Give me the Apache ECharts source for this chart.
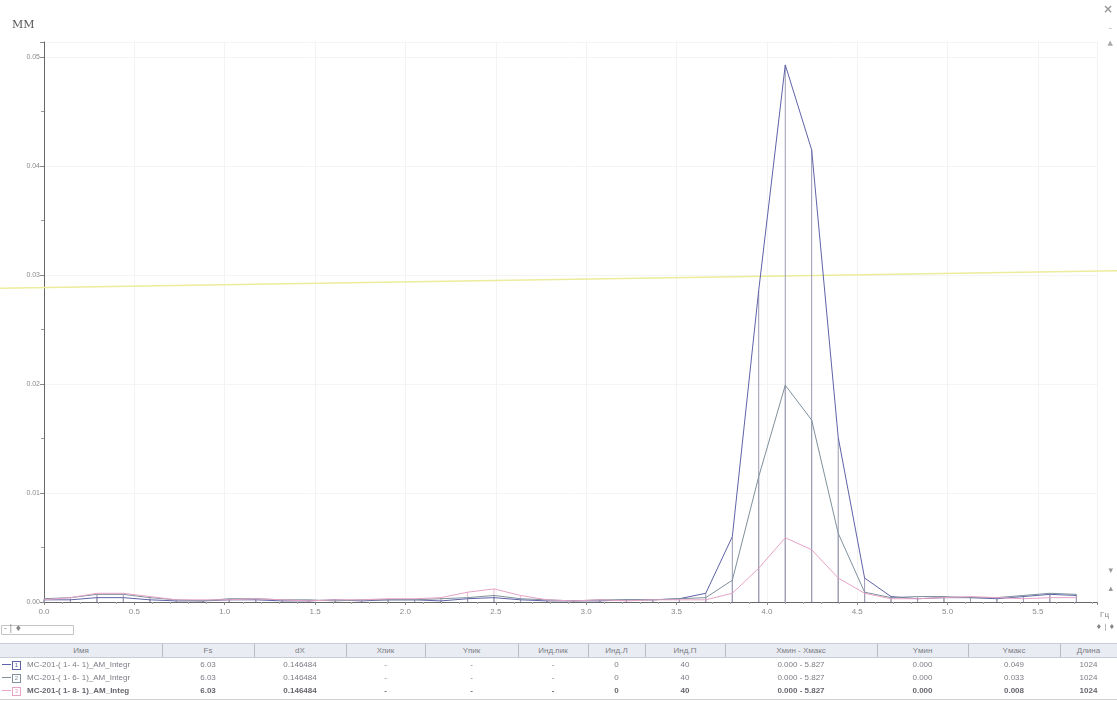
<!DOCTYPE html>
<html>
<head>
<meta charset="utf-8">
<script src="https://cdn.jsdelivr.net/npm/echarts@6/dist/echarts.min.js"></script>
<style>
  html, body { margin: 0; padding: 0; background: #fff; }
  #root { position: absolute; left: 0; top: 0; width: 1117px; height: 703px; }
  #tbl { position: absolute; left: 0; top: 643px; width: 1117px; font-family: "Liberation Sans", Arial, sans-serif; font-size: 8px; color: #7c7c84; }
  #tbl .row { position: absolute; left: 0; width: 1117px; height: 13px; }
  #tbl .hdr { background: #e9edf3; border-top: 1px solid #c8ccd4; border-bottom: 1px solid #c8ccd4; }
  #tbl .cell { position: absolute; top: 0; height: 13px; line-height: 13px; text-align: center; white-space: nowrap; }
  #tbl .sep { position: absolute; top: 0; width: 1px; height: 13px; background: #b8bcc6; }
  #tbl .ico { position: absolute; top: 3px; width: 7px; height: 7px; border: 1px solid; font-size: 6px; line-height: 7px; text-align: center; }
  #tbl .dash { position: absolute; top: 6px; left: 2px; width: 9px; height: 1px; }
</style>
</head>
<body>
<div id="root"></div>
<div id="tbl"></div>
<script>
// частоты, Гц (шаг dX = 0.146484)
var freqs = [0.000, 0.146, 0.293, 0.439, 0.586, 0.732, 0.879, 1.025, 1.172, 1.318,
             1.465, 1.611, 1.758, 1.904, 2.051, 2.197, 2.344, 2.490, 2.637, 2.783,
             2.930, 3.076, 3.223, 3.369, 3.516, 3.662, 3.809, 3.955, 4.102, 4.248,
             4.395, 4.541, 4.687, 4.834, 4.980, 5.127, 5.273, 5.420, 5.566, 5.713];

// амплитуды, мм
var amp1 = [0.0002, 0.0002, 0.0004, 0.0004, 0.0002, 0.0001, 0.0001, 0.0002, 0.0002, 0.0001,
            0.0001, 0.0002, 0.0001, 0.0002, 0.0002, 0.0001, 0.0003, 0.0004, 0.0002, 0.0001,
            0.0001, 0.0001, 0.0002, 0.0002, 0.0003, 0.0008, 0.0060, 0.0286, 0.0493, 0.0415,
            0.0151, 0.0022, 0.0005, 0.0003, 0.0004, 0.0004, 0.0003, 0.0005, 0.0007, 0.0006];
var amp2 = [0.0003, 0.0004, 0.0007, 0.0007, 0.0004, 0.0002, 0.0001, 0.0003, 0.0003, 0.0002,
            0.0002, 0.0001, 0.0002, 0.0002, 0.0002, 0.0003, 0.0004, 0.0006, 0.0003, 0.0002,
            0.0001, 0.0002, 0.0002, 0.0002, 0.0003, 0.0004, 0.0020, 0.0115, 0.0199, 0.0167,
            0.0063, 0.0009, 0.0004, 0.0005, 0.0005, 0.0004, 0.0004, 0.0006, 0.0008, 0.0007];
var amp3 = [0.0002, 0.0004, 0.0008, 0.0008, 0.0005, 0.0002, 0.0002, 0.0002, 0.0003, 0.0002,
            0.0001, 0.0002, 0.0002, 0.0003, 0.0003, 0.0004, 0.0009, 0.0012, 0.0006, 0.0002,
            0.0001, 0.0002, 0.0001, 0.0002, 0.0002, 0.0002, 0.0008, 0.0031, 0.0059, 0.0048,
            0.0022, 0.0008, 0.0003, 0.0003, 0.0004, 0.0005, 0.0004, 0.0003, 0.0004, 0.0004];

// жёлтая линия-маркер через всё окно (0 = левый край окна, 1 = правый)
var markX = [0, 1];
var markY = [0.0288, 0.0304];

var names = ['MC-201-( 1- 4- 1)_AM_Integr', 'MC-201-( 1- 6- 1)_AM_Integr', 'MC-201-( 1- 8- 1)_AM_Integ'];
var lineColors = ['#5f62a8', '#7f909c', '#e6a3c6'];
var stemColors = ['#9a9ab4', '#aab0b8', '#ecbcd4'];

// таблица
var headers = ['Имя', 'Fs', 'dX', 'Хпик', 'Yпик', 'Инд.пик', 'Инд.Л', 'Инд.П', 'Хмин - Хмакс', 'Yмин', 'Yмакс', 'Длина'];
var colEdges = [0, 162, 254, 346, 425, 518, 588, 645, 725, 877, 968, 1060, 1117];
var fsCol = ['6.03', '6.03', '6.03'];
var dxCol = ['0.146484', '0.146484', '0.146484'];
var idxL = ['0', '0', '0'];
var idxR = ['40', '40', '40'];
var xRange = ['0.000 - 5.827', '0.000 - 5.827', '0.000 - 5.827'];
var yMin = ['0.000', '0.000', '0.000'];
var yMax = ['0.049', '0.033', '0.008'];
var lens = ['1024', '1024', '1024'];

function pairs(ys) {
  return freqs.map(function (f, i) { return [f, ys[i]]; });
}

var myChart = echarts.init(document.getElementById('root'));
var amps = [amp1, amp2, amp3];
var series = [];

// вертикальные линии (стебли): сначала розовые, сверху серые
[2, 1, 0].forEach(function (i) {
  series.push({
    type: 'bar', data: pairs(amps[i]), barWidth: 1, barGap: '-100%', silent: true,
    itemStyle: { color: stemColors[i] }, z: 2
  });
});
amps.forEach(function (a, i) {
  series.push({
    type: 'line', data: pairs(a), symbol: 'none', silent: true,
    lineStyle: { color: lineColors[i], width: 1 }, z: 3
  });
});
series.push({
  type: 'line', xAxisIndex: 1, yAxisIndex: 1,
  data: [[markX[0], markY[0]], [markX[1], markY[1]]], symbol: 'none',
  silent: true, lineStyle: { color: '#ecec9c', width: 1.5 }, z: 1
});

myChart.setOption({
  animation: false,
  grid: [
    { left: 44, right: 20, top: 42, bottom: 101 },
    { left: 0, right: 0, top: 42, bottom: 101 }
  ],
  xAxis: [{
    type: 'value', min: 0, max: 5.827, interval: 0.5,
    axisLine: { lineStyle: { color: '#666', width: 1 } },
    axisTick: { length: 3, lineStyle: { color: '#888' } },
    minorTick: { show: true, splitNumber: 5, length: 2, lineStyle: { color: '#aaa' } },
    axisLabel: {
      showMaxLabel: false, color: '#8a8a8a', fontSize: 8, margin: 6,
      fontFamily: 'Liberation Sans', formatter: function (v) { return v.toFixed(1); }
    },
    splitLine: { show: true, lineStyle: { color: '#f3f3f3' } }
  }, {
    gridIndex: 1, type: 'value', min: 0, max: 1, show: false
  }],
  yAxis: [{
    type: 'value', min: 0, max: 0.0514, interval: 0.01,
    axisLine: { show: true, onZero: false, lineStyle: { color: '#666', width: 1 } },
    axisTick: { show: true, length: 4, lineStyle: { color: '#888' } },
    minorTick: { show: true, splitNumber: 2, length: 3, lineStyle: { color: '#999' } },
    axisLabel: {
      showMaxLabel: false, color: '#8a8a8a', fontSize: 7, margin: 4,
      fontFamily: 'Liberation Sans', formatter: function (v) { return v.toFixed(2); }
    },
    splitLine: { show: true, lineStyle: { color: '#f4f4f4' } }
  }, {
    gridIndex: 1, type: 'value', min: 0, max: 0.0514, show: false
  }],
  graphic: [
    { type: 'text', left: 12, top: 20, style: { text: 'ММ', fill: '#555', font: '11px "DejaVu Serif", serif' } },
    { type: 'text', right: 8, top: 611, style: { text: 'Гц', fill: '#888', font: '8px "Liberation Sans"' } },
    { type: 'text', right: 4, top: 4, style: { text: '×', fill: '#999', font: 'bold 12px "DejaVu Sans"' } },
    { type: 'text', right: 5, top: 24, style: { text: '-', fill: '#aaa', font: '9px "DejaVu Sans"' } },
    { type: 'text', right: 4, top: 40, style: { text: '▲', fill: '#aaa', font: '7px "DejaVu Sans"' } },
    { type: 'text', right: 4, top: 566, style: { text: '▾', fill: '#999', font: '9px "DejaVu Sans"' } },
    { type: 'text', right: 4, top: 584, style: { text: '▴', fill: '#999', font: '9px "DejaVu Sans"' } },
    { type: 'rect', left: 1, top: 625, shape: { width: 72, height: 9 }, style: { fill: '#fff', stroke: '#c4c4c4' } },
    { type: 'text', left: 4, top: 625, style: { text: '- | ♦', fill: '#888', font: '8px "DejaVu Sans"' } },
    { type: 'text', right: 2, top: 624, style: { text: '♦ | ♦', fill: '#888', font: '7px "DejaVu Sans"' } }
  ],
  series: series
});

// таблица под графиком
var tbl = document.getElementById('tbl');
function addRow(top, cells, cls, bold, color) {
  var r = document.createElement('div');
  r.className = 'row' + (cls ? ' ' + cls : '');
  r.style.top = top + 'px';
  for (var c = 0; c < cells.length; c++) {
    var d = document.createElement('div');
    d.className = 'cell';
    d.style.left = colEdges[c] + 'px';
    d.style.width = (colEdges[c + 1] - colEdges[c]) + 'px';
    d.textContent = cells[c];
    if (bold) { d.style.fontWeight = 'bold'; }
    if (color) { d.style.color = color; }
    r.appendChild(d);
  }
  if (cls === 'hdr') {
    for (var s = 1; s < colEdges.length - 1; s++) {
      var sp = document.createElement('div');
      sp.className = 'sep';
      sp.style.left = colEdges[s] + 'px';
      r.appendChild(sp);
    }
  }
  tbl.appendChild(r);
  return r;
}
addRow(0, headers, 'hdr');
for (var i = 0; i < 3; i++) {
  var cells = ['', fsCol[i], dxCol[i], '-', '-', '-', idxL[i], idxR[i], xRange[i], yMin[i], yMax[i], lens[i]];
  var r = addRow(15 + i * 13, cells, '', i === 2, i === 2 ? '#66666e' : null);
  var nm = r.firstChild;
  nm.style.textAlign = 'left';
  nm.style.paddingLeft = '27px';
  nm.style.width = '135px';
  nm.textContent = names[i];
  var dash = document.createElement('div');
  dash.className = 'dash';
  dash.style.background = lineColors[i];
  r.appendChild(dash);
  var ico = document.createElement('div');
  ico.className = 'ico';
  ico.style.left = '12px';
  ico.style.borderColor = lineColors[i];
  ico.style.color = lineColors[i];
  ico.textContent = String(i + 1);
  r.appendChild(ico);
}
var bot = document.createElement('div');
bot.style.cssText = 'position:absolute;left:0;top:56px;width:1117px;height:1px;background:#d0d0d0;';
tbl.appendChild(bot);
</script>
</body>
</html>
